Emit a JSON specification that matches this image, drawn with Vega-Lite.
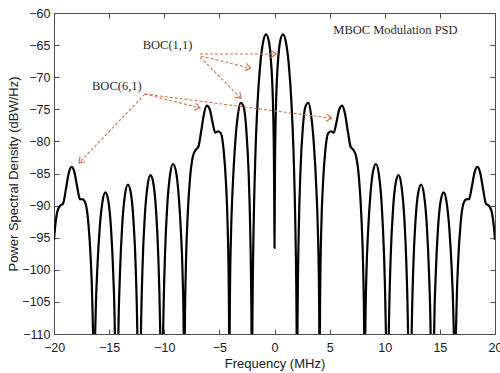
{
  "$schema": "https://vega.github.io/schema/vega-lite/v6.json",
  "width": 441,
  "height": 321,
  "autosize": {"type": "none"},
  "padding": {"left": 54, "top": 13, "right": 5, "bottom": 39},
  "background": "white",
  "config": {
    "view": {"stroke": "#4d4d4d", "strokeWidth": 1},
    "axis": {
      "labelFont": "Liberation Sans",
      "labelFontSize": 12.5,
      "labelColor": "#1a1a1a",
      "titleFont": "Liberation Sans",
      "titleFontSize": 13,
      "titleFontWeight": "normal",
      "titleColor": "#1a1a1a",
      "grid": false,
      "domainColor": "#4d4d4d",
      "tickColor": "#4d4d4d",
      "tickSize": -5,
      "labelPadding": 11,
      "labelFlush": false,
      "labelOverlap": false
    }
  },
  "datasets": {
    "psd": [
      {"f": -20.0, "p": -95.35}, {"f": -19.949, "p": -94.26}, {"f": -19.693, "p": -90.9}, {"f": -19.437, "p": -90.01}, {"f": -19.181, "p": -89.71}, {"f": -18.926, "p": -87.5}, {"f": -18.67, "p": -84.99}, {"f": -18.414, "p": -83.98}, {"f": -18.158, "p": -84.75}, {"f": -17.903, "p": -87.01}, {"f": -17.647, "p": -88.99}, {"f": -17.391, "p": -89.04}, {"f": -17.135, "p": -89.69}, {"f": -16.88, "p": -92.81}, {"f": -16.675, "p": -98.1}, {"f": -16.521, "p": -105.26}, {"f": -16.419, "p": -115.56}, {"f": -16.368, "p": -140}, {"f": -16.317, "p": -116}, {"f": -16.215, "p": -106.42}, {"f": -16.061, "p": -99.48}, {"f": -15.857, "p": -93.58}, {"f": -15.601, "p": -89.38}, {"f": -15.345, "p": -87.95}, {"f": -15.089, "p": -89.13}, {"f": -14.834, "p": -93.44}, {"f": -14.629, "p": -100.54}, {"f": -14.475, "p": -110.45}, {"f": -14.322, "p": -140}, {"f": -14.169, "p": -110.83}, {"f": -14.015, "p": -100.53}, {"f": -13.811, "p": -92.99}, {"f": -13.555, "p": -88.25}, {"f": -13.299, "p": -86.71}, {"f": -13.043, "p": -87.92}, {"f": -12.788, "p": -92.39}, {"f": -12.583, "p": -99.94}, {"f": -12.429, "p": -111.38}, {"f": -12.276, "p": -140}, {"f": -12.123, "p": -111.17}, {"f": -11.969, "p": -99.51}, {"f": -11.765, "p": -91.67}, {"f": -11.509, "p": -86.84}, {"f": -11.253, "p": -85.26}, {"f": -10.997, "p": -86.43}, {"f": -10.742, "p": -90.81}, {"f": -10.537, "p": -98.05}, {"f": -10.383, "p": -108.13}, {"f": -10.281, "p": -120.9}, {"f": -10.23, "p": -140}, {"f": -10.179, "p": -120.3}, {"f": -10.077, "p": -107.3}, {"f": -9.923, "p": -97.17}, {"f": -9.719, "p": -89.77}, {"f": -9.463, "p": -85.08}, {"f": -9.207, "p": -83.52}, {"f": -8.951, "p": -84.55}, {"f": -8.696, "p": -88.36}, {"f": -8.491, "p": -93.95}, {"f": -8.337, "p": -100.65}, {"f": -8.235, "p": -110.08}, {"f": -8.184, "p": -140}, {"f": -8.133, "p": -109.46}, {"f": -8.031, "p": -98.99}, {"f": -7.877, "p": -91.58}, {"f": -7.673, "p": -85.96}, {"f": -7.417, "p": -82.42}, {"f": -7.161, "p": -81.34}, {"f": -6.905, "p": -80.84}, {"f": -6.65, "p": -78.41}, {"f": -6.394, "p": -75.68}, {"f": -6.138, "p": -74.44}, {"f": -5.882, "p": -74.96}, {"f": -5.627, "p": -76.96}, {"f": -5.371, "p": -78.65}, {"f": -5.115, "p": -78.42}, {"f": -4.859, "p": -78.75}, {"f": -4.604, "p": -81.53}, {"f": -4.399, "p": -86.52}, {"f": -4.245, "p": -93.45}, {"f": -4.143, "p": -103.6}, {"f": -4.112, "p": -111.69}, {"f": -4.092, "p": -140}, {"f": -4.072, "p": -111.8}, {"f": -4.041, "p": -103.9}, {"f": -3.939, "p": -94.13}, {"f": -3.785, "p": -86.93}, {"f": -3.581, "p": -80.66}, {"f": -3.325, "p": -75.95}, {"f": -3.069, "p": -73.98}, {"f": -2.813, "p": -74.54}, {"f": -2.558, "p": -78.17}, {"f": -2.353, "p": -84.66}, {"f": -2.199, "p": -94.08}, {"f": -2.097, "p": -106.62}, {"f": -2.066, "p": -115.15}, {"f": -2.046, "p": -140}, {"f": -2.026, "p": -115.2}, {"f": -1.995, "p": -106.62}, {"f": -1.893, "p": -93.35}, {"f": -1.739, "p": -82.4}, {"f": -1.535, "p": -73.91}, {"f": -1.279, "p": -67.74}, {"f": -1.023, "p": -64.44}, {"f": -0.767, "p": -63.31}, {"f": -0.512, "p": -64.43}, {"f": -0.358, "p": -66.59}, {"f": -0.205, "p": -70.84}, {"f": -0.102, "p": -76.66}, {"f": -0.051, "p": -82.63}, {"f": -0.02, "p": -90.56},
      {"f": 0, "p": -96.6},
      {"f": 0.02, "p": -90.56}, {"f": 0.051, "p": -82.63}, {"f": 0.102, "p": -76.66}, {"f": 0.205, "p": -70.84}, {"f": 0.358, "p": -66.59}, {"f": 0.512, "p": -64.43}, {"f": 0.767, "p": -63.31}, {"f": 1.023, "p": -64.44}, {"f": 1.279, "p": -67.74}, {"f": 1.535, "p": -73.91}, {"f": 1.739, "p": -82.4}, {"f": 1.893, "p": -93.35}, {"f": 1.995, "p": -106.62}, {"f": 2.026, "p": -115.2}, {"f": 2.046, "p": -140}, {"f": 2.066, "p": -115.15}, {"f": 2.097, "p": -106.62}, {"f": 2.199, "p": -94.08}, {"f": 2.353, "p": -84.66}, {"f": 2.558, "p": -78.17}, {"f": 2.813, "p": -74.54}, {"f": 3.069, "p": -73.98}, {"f": 3.325, "p": -75.95}, {"f": 3.581, "p": -80.66}, {"f": 3.785, "p": -86.93}, {"f": 3.939, "p": -94.13}, {"f": 4.041, "p": -103.9}, {"f": 4.072, "p": -111.8}, {"f": 4.092, "p": -140}, {"f": 4.112, "p": -111.69}, {"f": 4.143, "p": -103.6}, {"f": 4.245, "p": -93.45}, {"f": 4.399, "p": -86.52}, {"f": 4.604, "p": -81.53}, {"f": 4.859, "p": -78.75}, {"f": 5.115, "p": -78.42}, {"f": 5.371, "p": -78.65}, {"f": 5.627, "p": -76.96}, {"f": 5.882, "p": -74.96}, {"f": 6.138, "p": -74.44}, {"f": 6.394, "p": -75.68}, {"f": 6.65, "p": -78.41}, {"f": 6.905, "p": -80.84}, {"f": 7.161, "p": -81.34}, {"f": 7.417, "p": -82.42}, {"f": 7.673, "p": -85.96}, {"f": 7.877, "p": -91.58}, {"f": 8.031, "p": -98.99}, {"f": 8.133, "p": -109.46}, {"f": 8.184, "p": -140}, {"f": 8.235, "p": -110.08}, {"f": 8.337, "p": -100.65}, {"f": 8.491, "p": -93.95}, {"f": 8.696, "p": -88.36}, {"f": 8.951, "p": -84.55}, {"f": 9.207, "p": -83.52}, {"f": 9.463, "p": -85.08}, {"f": 9.719, "p": -89.77}, {"f": 9.923, "p": -97.17}, {"f": 10.077, "p": -107.3}, {"f": 10.179, "p": -120.3}, {"f": 10.23, "p": -140}, {"f": 10.281, "p": -120.9}, {"f": 10.383, "p": -108.13}, {"f": 10.537, "p": -98.05}, {"f": 10.742, "p": -90.81}, {"f": 10.997, "p": -86.43}, {"f": 11.253, "p": -85.26}, {"f": 11.509, "p": -86.84}, {"f": 11.765, "p": -91.67}, {"f": 11.969, "p": -99.51}, {"f": 12.123, "p": -111.17}, {"f": 12.276, "p": -140}, {"f": 12.429, "p": -111.38}, {"f": 12.583, "p": -99.94}, {"f": 12.788, "p": -92.39}, {"f": 13.043, "p": -87.92}, {"f": 13.299, "p": -86.71}, {"f": 13.555, "p": -88.25}, {"f": 13.811, "p": -92.99}, {"f": 14.015, "p": -100.53}, {"f": 14.169, "p": -110.83}, {"f": 14.322, "p": -140}, {"f": 14.475, "p": -110.45}, {"f": 14.629, "p": -100.54}, {"f": 14.834, "p": -93.44}, {"f": 15.089, "p": -89.13}, {"f": 15.345, "p": -87.95}, {"f": 15.601, "p": -89.38}, {"f": 15.857, "p": -93.58}, {"f": 16.061, "p": -99.48}, {"f": 16.215, "p": -106.42}, {"f": 16.317, "p": -116}, {"f": 16.368, "p": -140}, {"f": 16.419, "p": -115.56}, {"f": 16.521, "p": -105.26}, {"f": 16.675, "p": -98.1}, {"f": 16.88, "p": -92.81}, {"f": 17.135, "p": -89.69}, {"f": 17.391, "p": -89.04}, {"f": 17.647, "p": -88.99}, {"f": 17.903, "p": -87.01}, {"f": 18.158, "p": -84.75}, {"f": 18.414, "p": -83.98}, {"f": 18.67, "p": -84.99}, {"f": 18.926, "p": -87.5}, {"f": 19.181, "p": -89.71}, {"f": 19.437, "p": -90.01}, {"f": 19.693, "p": -90.9}, {"f": 19.949, "p": -94.26}, {"f": 20.0, "p": -95.35}
    ],
    "arrows": [
      {"id": 1, "x1": -6.76, "y1": -66.39, "x2": 0.14, "y2": -66.39},
      {"id": 2, "x1": -6.67, "y1": -66.7, "x2": -2.16, "y2": -68.61},
      {"id": 3, "x1": -6.76, "y1": -66.85, "x2": -3.04, "y2": -73.29},
      {"id": 4, "x1": -11.75, "y1": -72.62, "x2": -6.76, "y2": -74.8},
      {"id": 5, "x1": -11.75, "y1": -72.62, "x2": -17.73, "y2": -83.36},
      {"id": 6, "x1": -11.75, "y1": -72.62, "x2": 5.19, "y2": -76.4}
    ],
    "labels": [
      {"x": -9.7, "y": -65.0, "t": "BOC(1,1)"},
      {"x": -14.3, "y": -71.4, "t": "BOC(6,1)"},
      {"x": 10.97, "y": -62.65, "t": "MBOC Modulation PSD"}
    ]
  },
  "layer": [
    {
      "data": {"name": "psd"},
      "mark": {"type": "line", "color": "#000000", "strokeWidth": 2.2, "clip": true, "interpolate": "monotone"},
      "encoding": {
        "x": {"field": "f", "type": "quantitative", "scale": {"domain": [-20, 20], "nice": false},
          "axis": {"orient": "bottom", "values": [-20, -15, -10, -5, 0, 5, 10, 15, 20], "title": "Frequency (MHz)", "labelPadding": 12, "titlePadding": 4}},
        "y": {"field": "p", "type": "quantitative", "scale": {"domain": [-110, -60], "nice": false},
          "axis": {"orient": "left", "values": [-110, -105, -100, -95, -90, -85, -80, -75, -70, -65, -60], "title": "Power Spectral Density (dBW/Hz)", "labelPadding": 9, "titlePadding": 1}}
      }
    },
    {
      "data": {"name": "psd"},
      "mark": {"type": "line", "opacity": 0, "clip": true},
      "encoding": {
        "x": {"field": "f", "type": "quantitative", "axis": {"orient": "top", "values": [-20, -15, -10, -5, 0, 5, 10, 15, 20], "labels": false, "title": null, "domain": false}},
        "y": {"field": "p", "type": "quantitative", "axis": {"orient": "right", "values": [-110, -105, -100, -95, -90, -85, -80, -75, -70, -65, -60], "labels": false, "title": null, "domain": false}}
      }
    },
    {
      "data": {"name": "arrows"},
      "mark": {"type": "rule", "color": "#d4744f", "strokeWidth": 1.1, "strokeDash": [3, 2]},
      "encoding": {
        "x": {"field": "x1", "type": "quantitative", "axis": null},
        "y": {"field": "y1", "type": "quantitative", "axis": null},
        "x2": {"field": "x2"},
        "y2": {"field": "y2"}
      }
    },
    {
      "data": {"name": "arrows"},
      "transform": [{"filter": "datum.id == 1"}],
      "mark": {"type": "point", "shape": "M-1,-0.7L0,0L-1,0.7", "filled": false, "color": "#d4744f", "strokeWidth": 1.2, "size": 110, "angle": 0, "opacity": 1},
      "encoding": {"x": {"field": "x2", "type": "quantitative", "axis": null}, "y": {"field": "y2", "type": "quantitative", "axis": null}}
    },
    {
      "data": {"name": "arrows"},
      "transform": [{"filter": "datum.id == 2"}],
      "mark": {"type": "point", "shape": "M-1,-0.7L0,0L-1,0.7", "filled": false, "color": "#d4744f", "strokeWidth": 1.2, "size": 110, "angle": 13.6, "opacity": 1},
      "encoding": {"x": {"field": "x2", "type": "quantitative", "axis": null}, "y": {"field": "y2", "type": "quantitative", "axis": null}}
    },
    {
      "data": {"name": "arrows"},
      "transform": [{"filter": "datum.id == 3"}],
      "mark": {"type": "point", "shape": "M-1,-0.7L0,0L-1,0.7", "filled": false, "color": "#d4744f", "strokeWidth": 1.2, "size": 110, "angle": 45.2, "opacity": 1},
      "encoding": {"x": {"field": "x2", "type": "quantitative", "axis": null}, "y": {"field": "y2", "type": "quantitative", "axis": null}}
    },
    {
      "data": {"name": "arrows"},
      "transform": [{"filter": "datum.id == 4"}],
      "mark": {"type": "point", "shape": "M-1,-0.7L0,0L-1,0.7", "filled": false, "color": "#d4744f", "strokeWidth": 1.2, "size": 110, "angle": 14.3, "opacity": 1},
      "encoding": {"x": {"field": "x2", "type": "quantitative", "axis": null}, "y": {"field": "y2", "type": "quantitative", "axis": null}}
    },
    {
      "data": {"name": "arrows"},
      "transform": [{"filter": "datum.id == 5"}],
      "mark": {"type": "point", "shape": "M-1,-0.7L0,0L-1,0.7", "filled": false, "color": "#d4744f", "strokeWidth": 1.2, "size": 110, "angle": 133.7, "opacity": 1},
      "encoding": {"x": {"field": "x2", "type": "quantitative", "axis": null}, "y": {"field": "y2", "type": "quantitative", "axis": null}}
    },
    {
      "data": {"name": "arrows"},
      "transform": [{"filter": "datum.id == 6"}],
      "mark": {"type": "point", "shape": "M-1,-0.7L0,0L-1,0.7", "filled": false, "color": "#d4744f", "strokeWidth": 1.2, "size": 110, "angle": 7.4, "opacity": 1},
      "encoding": {"x": {"field": "x2", "type": "quantitative", "axis": null}, "y": {"field": "y2", "type": "quantitative", "axis": null}}
    },
    {
      "data": {"name": "labels"},
      "mark": {"type": "text", "font": "Liberation Serif", "fontSize": 12.5, "color": "#2b2b2b", "align": "center", "baseline": "middle"},
      "encoding": {
        "x": {"field": "x", "type": "quantitative", "axis": null},
        "y": {"field": "y", "type": "quantitative", "axis": null},
        "text": {"field": "t"}
      }
    }
  ],
  "resolve": {"axis": {"x": "independent", "y": "independent"}}
}
